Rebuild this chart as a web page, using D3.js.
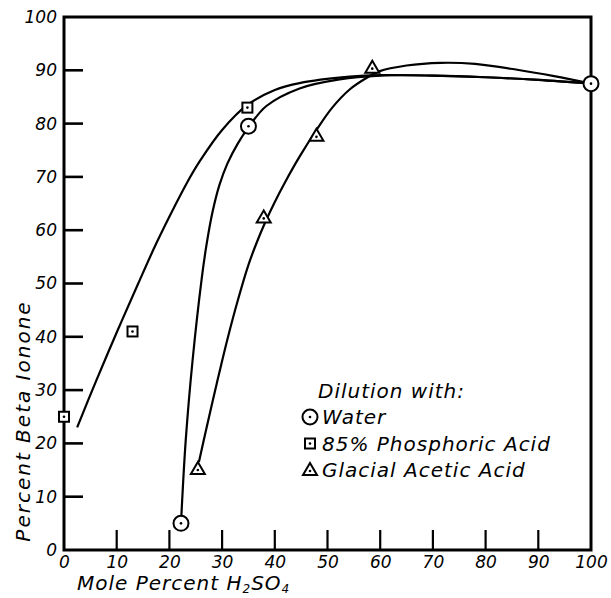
<!DOCTYPE html>
<html>
<head>
<meta charset="utf-8">
<script src="https://cdn.jsdelivr.net/npm/d3@7"></script>
<style>
  html, body { margin: 0; padding: 0; background: #fff; }
  svg { display: block; }
  text { font-family: "DejaVu Sans", sans-serif; font-style: italic; fill: #000; }
</style>
</head>
<body>
<svg id="chart" width="611" height="598"></svg>
<script>
// ---- Data ----
const xTicks = [0, 10, 20, 30, 40, 50, 60, 70, 80, 90, 100];
const yTicks = [0, 10, 20, 30, 40, 50, 60, 70, 80, 90, 100];

// measured points
const waterPoints = [[22.2, 5], [35, 79.5], [100, 87.5]];
const phosphoricPoints = [[0, 25], [13, 41], [34.8, 83]];
const aceticPoints = [[25.4, 15.2], [37.9, 62.4], [47.9, 77.7], [58.5, 90.5]];

// hand-drawn fitted curves
const waterCurve = [[22.2, 5], [23.1, 20.6], [24.4, 35.6], [26.1, 50.7], [27, 57], [28.2, 63.5],
  [29.5, 68.5], [31, 72.5], [33, 76.3], [35, 79.3], [38.4, 83.3], [44.7, 86.6], [52.3, 88.3],
  [60, 89.0], [70, 89.0], [80, 88.7], [90, 88.2], [100, 87.5]];
const phosphoricCurve = [[2.5, 23], [6, 31.5], [10, 40.8], [14, 49.8], [17.5, 57.5], [21, 64.5],
  [23.5, 69.2], [25.8, 73], [30, 78.8], [34.8, 83.5], [40, 86.3], [44.7, 87.6], [54.2, 88.8],
  [60, 89.1], [70, 89.0], [80, 88.7], [90, 88.2], [100, 87.5]];
const aceticCurve = [[25.6, 16.5], [27, 22.7], [29, 31.3], [31, 39.5], [33, 46.9], [35, 53.5],
  [36.5, 57.5], [38.1, 61.3], [40, 65.3], [42, 69.1], [44.7, 73.8], [47.9, 78.8], [50.9, 83.0],
  [54.2, 86.4], [57.3, 88.5], [59.8, 89.8], [65, 90.9], [71.5, 91.4], [78, 91.2], [86, 90.1],
  [93, 88.9], [100, 87.5]];

const legendTitle = "Dilution with:";
const legendLabels = ["Water", "85% Phosphoric Acid", "Glacial Acetic Acid"];
const legendSymbols = ["circle", "square", "triangle"];

// ---- Drawing ----
const svg = d3.select("#chart");
const x = d3.scaleLinear().domain([0, 100]).range([64, 591]);
const y = d3.scaleLinear().domain([0, 100]).range([550, 17]);

// frame
svg.append("rect")
  .attr("x", x(0)).attr("y", y(100))
  .attr("width", x(100) - x(0)).attr("height", y(0) - y(100))
  .attr("fill", "none").attr("stroke", "#000").attr("stroke-width", 3);

// x axis (inward ticks)
const xAxis = d3.axisBottom(x).tickValues(xTicks).tickSize(0).tickPadding(0).tickFormat(d => d);
const gx = svg.append("g").attr("transform", `translate(0,${y(0)})`).call(xAxis);
gx.select(".domain").remove();
gx.selectAll(".tick text").attr("y", 6).attr("dy", "0.71em")
  .style("font-size", "17px").style("font-family", "DejaVu Sans").style("font-style", "italic");
svg.append("g").selectAll("line").data(xTicks.filter(d => d > 0 && d < 100)).join("line")
  .attr("x1", d => x(d)).attr("x2", d => x(d))
  .attr("y1", y(0)).attr("y2", y(0) - 20)
  .attr("stroke", "#000").attr("stroke-width", 2.2);

// y axis (inward ticks)
const yAxis = d3.axisLeft(y).tickValues(yTicks).tickSize(0).tickPadding(7).tickFormat(d => d);
const gy = svg.append("g").attr("transform", `translate(${x(0)},0)`).call(yAxis);
gy.select(".domain").remove();
gy.selectAll(".tick text")
  .style("font-size", "17px").style("font-family", "DejaVu Sans").style("font-style", "italic");
svg.append("g").selectAll("line").data(yTicks.filter(d => d > 0 && d < 100)).join("line")
  .attr("x1", x(0)).attr("x2", x(0) + 19)
  .attr("y1", d => y(d)).attr("y2", d => y(d))
  .attr("stroke", "#000").attr("stroke-width", 2.6);

// curves
const line = d3.line().x(d => x(d[0])).y(d => y(d[1])).curve(d3.curveCatmullRom.alpha(0.5));
[waterCurve, phosphoricCurve, aceticCurve].forEach(c => {
  svg.append("path").attr("d", line(c)).attr("fill", "none")
    .attr("stroke", "#000").attr("stroke-width", 2.2);
});

// markers
function marker(g, type, cx, cy) {
  if (type === "circle") {
    g.append("circle").attr("cx", cx).attr("cy", cy).attr("r", 7.5)
      .attr("fill", "#fff").attr("stroke", "#000").attr("stroke-width", 2);
  } else if (type === "square") {
    g.append("rect").attr("x", cx - 5).attr("y", cy - 5).attr("width", 10).attr("height", 10)
      .attr("fill", "#fff").attr("stroke", "#000").attr("stroke-width", 2);
  } else {
    g.append("path").attr("d", `M${cx},${cy - 7}L${cx + 7},${cy + 5}L${cx - 7},${cy + 5}Z`)
      .attr("fill", "#fff").attr("stroke", "#000").attr("stroke-width", 2);
  }
  g.append("circle").attr("cx", cx).attr("cy", cy + (type === "triangle" ? 1 : 0)).attr("r", 1.3).attr("fill", "#000");
}
const gm = svg.append("g");
waterPoints.forEach(p => marker(gm, "circle", x(p[0]), y(p[1])));
phosphoricPoints.forEach(p => marker(gm, "square", x(p[0]), y(p[1])));
aceticPoints.forEach(p => marker(gm, "triangle", x(p[0]), y(p[1])));

// legend
const lg = svg.append("g");
lg.append("text").attr("x", 318).attr("y", 391).attr("dy", "0.35em")
  .style("font-size", "20px").style("letter-spacing", "1px").text(legendTitle);
legendLabels.forEach((lab, i) => {
  const yy = 417 + i * 26.5;
  marker(lg, legendSymbols[i], 310, yy);
  lg.append("text").attr("x", 322).attr("y", yy).attr("dy", "0.35em")
    .style("font-size", "20px").style("letter-spacing", "1px").text(lab);
});

// axis titles
const xt = svg.append("text").attr("x", 77).attr("y", 590)
  .style("font-size", "20px").style("letter-spacing", "1px");
xt.append("tspan").text("Mole Percent H");
xt.append("tspan").attr("dy", 3).style("font-size", "12px").text("2");
xt.append("tspan").attr("dy", -3).text("SO");
xt.append("tspan").attr("dy", 3).style("font-size", "12px").text("4");

svg.append("text").attr("transform", "translate(30,421) rotate(-90)")
  .attr("text-anchor", "middle")
  .style("font-size", "20px").style("letter-spacing", "2px")
  .text("Percent Beta Ionone");
</script>
</body>
</html>
